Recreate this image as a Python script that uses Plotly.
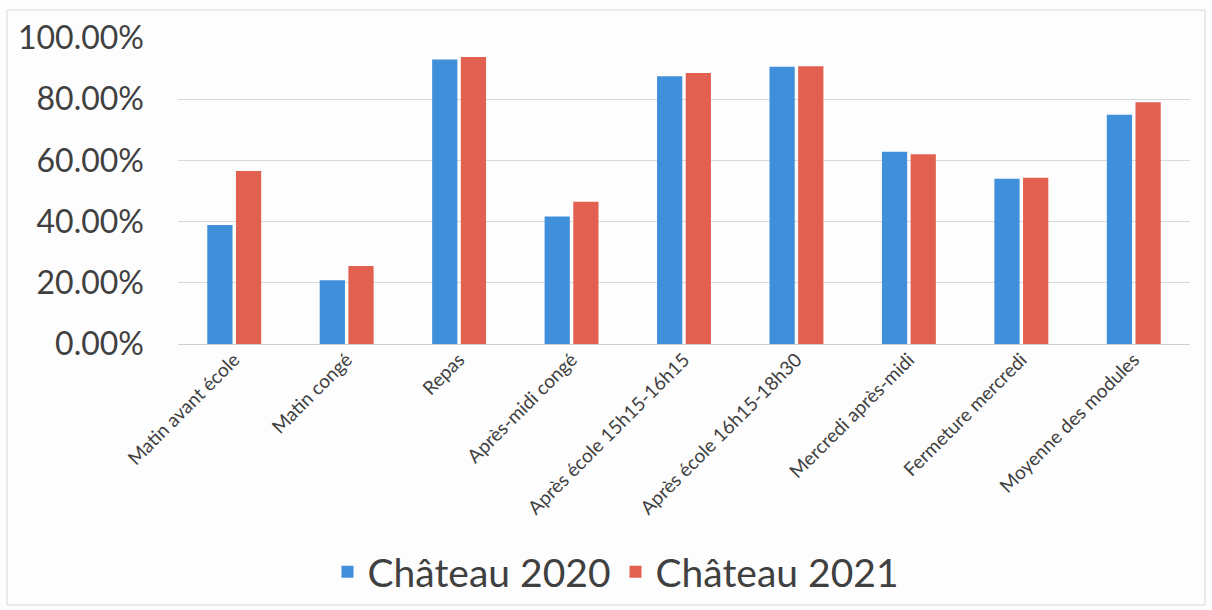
import plotly.graph_objects as go

categories = ["Matin avant école", "Matin congé", "Repas", "Après-midi congé",
              "Après école 15h15-16h15", "Après école 16h15-18h30",
              "Mercredi après-midi", "Fermeture mercredi", "Moyenne des modules"]
chateau_2020 = [0.389, 0.208, 0.930, 0.417, 0.875, 0.906, 0.628, 0.540, 0.749]
chateau_2021 = [0.565, 0.255, 0.938, 0.465, 0.886, 0.908, 0.620, 0.543, 0.790]
y_ticks = [0, 0.2, 0.4, 0.6, 0.8, 1.0]

W, H = 1212, 610
L, R, T, B = 178, 22, 38, 266

fig = go.Figure()
fig.add_trace(go.Bar(name="Château 2020", x=categories, y=chateau_2020,
                     marker=dict(color="#3f8fdb", line=dict(width=0))))
fig.add_trace(go.Bar(name="Château 2021", x=categories, y=chateau_2021,
                     marker=dict(color="#e2604f", line=dict(width=0))))

pw = W - L - R
ph = H - T - B
def px_x(p):
    return (p - L) / pw
def px_y(p):
    return (H - B - p) / ph

fig.update_layout(
    width=W, height=H,
    margin=dict(l=L, r=R, t=T, b=B, autoexpand=False),
    paper_bgcolor="#fdfdfe", plot_bgcolor="#fdfdfe",
    barmode="group", bargap=0.49, bargroupgap=0.12,
    font=dict(family="Lato, Calibri, sans-serif", color="#404040"),
    xaxis=dict(tickangle=-45, tickfont=dict(size=19, color="#404040"),
               showgrid=False, showline=False, ticks=""),
    yaxis=dict(range=[0, 1.0], tickvals=y_ticks, tickformat=".2%",
               tickfont=dict(size=32, color="#404040"),
               showgrid=True, gridcolor="#d9d9d9", gridwidth=1,
               zeroline=True, zerolinecolor="#d0d0d0", zerolinewidth=1,
               ticks="", ticklabelstandoff=33),
    legend=dict(orientation="h", x=px_x(616), xanchor="center",
                y=px_y(572), yanchor="middle",
                font=dict(size=39, color="#404040"),
                bgcolor="rgba(0,0,0,0)", itemwidth=30),
    shapes=[dict(type="rect", xref="paper", yref="paper",
                 x0=px_x(7), x1=px_x(1205), y0=px_y(605), y1=px_y(10),
                 line=dict(color="#d8d8d8", width=1), layer="below")],
)

fig.write_html("out.html", config={"displayModeBar": False},
               post_script="document.body.style.margin='0';")
